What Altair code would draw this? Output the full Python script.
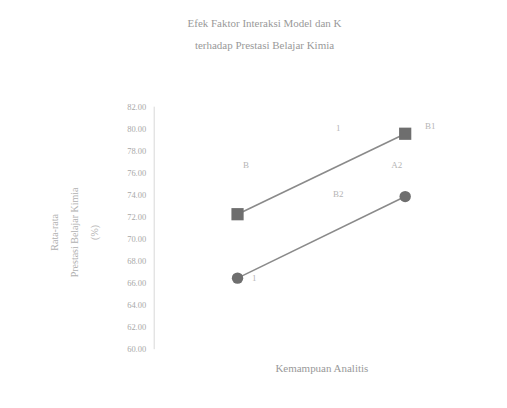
import altair as alt
import pandas as pd

x_pos = [1, 2]
x_names = ["A1", "A2"]
upper_vals = [72.2, 79.5]
lower_vals = [66.4, 73.8]
y_ticks = [60, 62, 64, 66, 68, 70, 72, 74, 76, 78, 80, 82]

rows = []
for xp, xn, u, l in zip(x_pos, x_names, upper_vals, lower_vals):
    rows.append({"x": xp, "kat": xn, "seri": "B1", "nilai": u})
    rows.append({"x": xp, "kat": xn, "seri": "B2", "nilai": l})
df = pd.DataFrame(rows)

lbl_text = ["B", "1", "B1", "A2", "B2", "1"]
lbl_x = [1.05, 1.1, 2.15, 1.95, 1.6, 1.6]
lbl_y = [76.7, 66.4, 80.2, 76.7, 74.0, 80.0]
lbl_df = pd.DataFrame({"t": lbl_text, "x": lbl_x, "nilai": lbl_y})

grey = "#b5b5b5"
font = "Liberation Serif"

xs = alt.Scale(domain=[0.5, 2.5], nice=False, zero=False)
ys = alt.Scale(domain=[60, 82], nice=False, zero=False)

x_enc = alt.X("x:Q", scale=xs,
              axis=alt.Axis(labels=False, ticks=False, domain=False, grid=False,
                            title="Kemampuan Analitis", titleFont=font,
                            titleFontSize=11, titleFontWeight="normal",
                            titleColor="#999999", titlePadding=14,
                            titleX=168, titleAnchor="middle"))
y_enc = alt.Y("nilai:Q", scale=ys,
              axis=alt.Axis(values=y_ticks, format=".2f", ticks=False, grid=False,
                            labelOverlap=False,
                            domainColor="#d8d8d8", labelColor="#a8a8a8",
                            labelFont=font, labelFontSize=8.5, labelPadding=8,
                            title=["Rata-rata", "Prestasi Belajar Kimia", "(%)"],
                            titleFont=font, titleFontSize=10,
                            titleFontWeight="normal", titleColor="#b0b0b0",
                            titleX=-94, titleY=126, titleLineHeight=20))

base = alt.Chart(df).encode(x=x_enc, y=y_enc, detail="seri:N")

lines = base.mark_line(color="#8a8a8a", strokeWidth=1.6)
squares = base.transform_filter(alt.datum.seri == "B1").mark_point(
    shape="square", filled=True, size=150, color="#6e6e6e", opacity=1)
circles = base.transform_filter(alt.datum.seri == "B2").mark_point(
    shape="circle", filled=True, size=130, color="#6e6e6e", opacity=1)

labels = alt.Chart(lbl_df).mark_text(font=font, fontSize=9, color=grey).encode(
    x=x_enc, y=y_enc, text="t:N")

chart = alt.layer(lines, squares, circles, labels).properties(
    width=336, height=243,
    background="white",
    autosize=alt.AutoSizeParams(type="none"),
    padding={"left": 146, "top": 98, "right": 10, "bottom": 40},
    title=alt.TitleParams(
        text=["Efek Faktor Interaksi Model dan K", "terhadap Prestasi Belajar Kimia"],
        font=font, fontSize=11, fontWeight="normal", color="#999999",
        anchor="middle", dx=-57, offset=51, lineHeight=22),
).configure_view(strokeWidth=0).configure_axis(labelOverlap=False)

chart.save("out.html", embed_options={"renderer": "svg", "actions": False})
